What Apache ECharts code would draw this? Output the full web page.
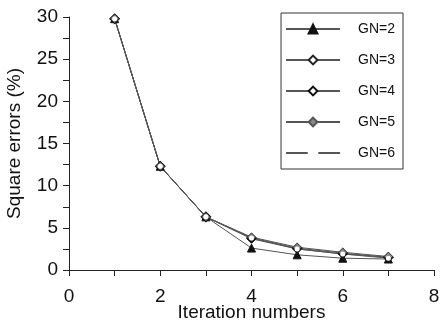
<!DOCTYPE html>
<html><head><meta charset="utf-8">
<script src="https://cdn.jsdelivr.net/npm/echarts@6/dist/echarts.min.js"></script>
<style>html,body{margin:0;padding:0;background:#fff}#c{width:441px;height:324px}</style>
</head><body><div id="c"></div>
<script>
const iterations = [1, 2, 3, 4, 5, 6, 7];
const gn2 = [29.8, 12.3, 6.3, 2.6, 1.8, 1.4, 1.3];
const gn3 = [29.8, 12.3, 6.3, 3.7, 2.5, 1.9, 1.5];
const gn4 = [29.8, 12.3, 6.3, 3.8, 2.6, 2.0, 1.5];
const gn5 = [29.8, 12.3, 6.3, 3.9, 2.7, 2.1, 1.6];
const gn6 = [29.8, 12.3, 6.3, 3.8, 2.5, 1.9, 1.4];
const seriesNames = ['GN=2', 'GN=3', 'GN=4', 'GN=5', 'GN=6'];
const xTicks = [0, 2, 4, 6, 8];
const yTicks = [0, 5, 10, 15, 20, 25, 30];

const font = 'Liberation Sans, Arial, sans-serif';
function pairs(v){ return iterations.map((x,i)=>[x, v[i]]); }
const styles = [
  {symbol:'triangle', symbolSize:8, itemStyle:{color:'#111', borderColor:'#111', borderWidth:1}},
  {symbol:'diamond', symbolSize:9, itemStyle:{color:'#fff', borderColor:'#222', borderWidth:1}},
  {symbol:'diamond', symbolSize:8, itemStyle:{color:'#fff', borderColor:'#111', borderWidth:2.2}},
  {symbol:'diamond', symbolSize:8, itemStyle:{color:'#888', borderColor:'#555', borderWidth:1}},
  {symbol:'emptyCircle', symbolSize:3, itemStyle:{color:'#fff', borderColor:'#aaa', borderWidth:1}}
];
const datasets = [gn2, gn3, gn4, gn5, gn6];
const chart = echarts.init(document.getElementById('c'));
chart.setOption({
  animation:false,
  backgroundColor:'#fff',
  grid:{left:69, right:7, top:17, bottom:54, containLabel:false, outerBoundsMode:'none'},
  legend:{
    orient:'vertical', right:38, top:13,
    padding:[9,8,9,4], itemWidth:54, itemHeight:11, itemGap:17,
    borderColor:'#333', borderWidth:1,
    textStyle:{fontFamily:font, fontSize:14, color:'#111', padding:[0,0,0,13]},
    data:seriesNames
  },
  xAxis:{
    type:'value', min:0, max:8, interval:2,
    axisLine:{show:true, lineStyle:{color:'#222', width:1}},
    axisTick:{show:true, length:6, lineStyle:{color:'#222'}},
    minorTick:{show:true, splitNumber:2, length:6, lineStyle:{color:'#222'}},
    splitLine:{show:false},
    axisLabel:{fontFamily:font, fontSize:19, color:'#111', margin:17,
      formatter:v=>xTicks.includes(v)?String(v):''},
    name:'Iteration numbers', nameLocation:'middle', nameGap:33, nameMoveOverlap:false,
    nameTextStyle:{fontFamily:font, fontSize:19, color:'#111'}
  },
  yAxis:{
    type:'value', min:0, max:30, interval:5,
    axisLine:{show:true, lineStyle:{color:'#222', width:1}},
    axisTick:{show:true, length:6, lineStyle:{color:'#222'}},
    minorTick:{show:true, splitNumber:2, length:6, lineStyle:{color:'#222'}},
    splitLine:{show:false},
    axisLabel:{fontFamily:font, fontSize:19, color:'#111', margin:11,
      formatter:v=>yTicks.includes(v)?String(v):''},
    name:'Square errors (%)', nameLocation:'middle', nameGap:45, nameRotate:90, nameMoveOverlap:false,
    nameTextStyle:{fontFamily:font, fontSize:19, color:'#111'}
  },
  series: datasets.map((d,i)=>Object.assign({
    name:seriesNames[i], type:'line', data:pairs(d),
    lineStyle:{color:'#555', width:1}, showAllSymbol:true
  }, styles[i]))
});
</script></body></html>
